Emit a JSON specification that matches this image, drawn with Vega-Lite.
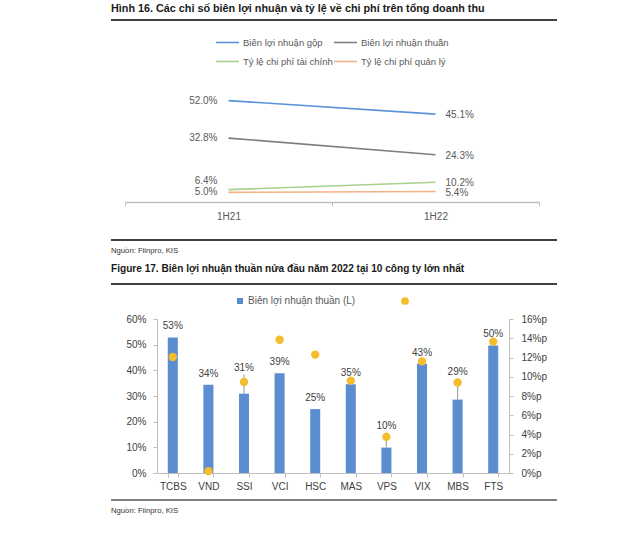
{
  "$schema": "https://vega.github.io/schema/vega-lite/v6.json",
  "background": "white",
  "padding": {"left": 110, "top": 2, "right": 0, "bottom": 0},
  "autosize": {"type": "pad"},
  "spacing": 0,
  "bounds": "flush",
  "resolve": {"scale": {"color": "independent"}, "legend": {"color": "independent"}},
  "config": {
    "font": "Liberation Sans",
    "view": {"stroke": null},
    "axis": {"labelFont": "Liberation Sans", "labelFontSize": 10, "labelColor": "#595959", "domainColor": "#BFBFBF", "tickColor": "#BFBFBF", "grid": false, "title": null, "tickSize": 4},
    "legend": {"labelFont": "Liberation Sans", "labelFontSize": 10, "labelColor": "#595959"},
    "title": {"anchor": "start", "frame": "group", "font": "Liberation Sans", "fontSize": 10.5, "fontWeight": "bold", "color": "#1a1a1a"}
  },
  "datasets": {
    "lines": [
      {"period": "1H21", "series": "Biên lợi nhuận gộp", "value": 0.520},
      {"period": "1H22", "series": "Biên lợi nhuận gộp", "value": 0.451},
      {"period": "1H21", "series": "Biên lợi nhuận thuần", "value": 0.328},
      {"period": "1H22", "series": "Biên lợi nhuận thuần", "value": 0.243},
      {"period": "1H21", "series": "Tỷ lệ chi phí tài chính", "value": 0.064},
      {"period": "1H22", "series": "Tỷ lệ chi phí tài chính", "value": 0.102},
      {"period": "1H21", "series": "Tỷ lệ chi phí quản lý", "value": 0.050},
      {"period": "1H22", "series": "Tỷ lệ chi phí quản lý", "value": 0.054}
    ],
    "firms": [
      {"company": "TCBS", "margin": 0.528, "dot": 12.05},
      {"company": "VND", "margin": 0.344, "dot": 0.2},
      {"company": "SSI", "margin": 0.309, "dot": 9.45},
      {"company": "VCI", "margin": 0.389, "dot": 13.85},
      {"company": "HSC", "margin": 0.249, "dot": 12.3},
      {"company": "MAS", "margin": 0.346, "dot": 9.6},
      {"company": "VPS", "margin": 0.099, "dot": 3.75},
      {"company": "VIX", "margin": 0.426, "dot": 11.6},
      {"company": "MBS", "margin": 0.286, "dot": 9.4},
      {"company": "FTS", "margin": 0.497, "dot": 13.65}
    ],
    "edge": [{"from": 0, "to": 1, "level": 0}]
  },
  "vconcat": [
    {
      "width": 446, "height": 1,
      "data": {"name": "edge"},
      "mark": {"type": "rule", "color": "#404040", "strokeWidth": 1.8},
      "encoding": {
        "x": {"field": "from", "type": "quantitative", "scale": {"domain": [0, 1]}, "axis": null},
        "x2": {"field": "to"},
        "y": {"field": "level", "type": "quantitative", "scale": {"domain": [0, 1]}, "axis": null}
      },
      "title": {"text": "Hình 16. Các chỉ số biên lợi nhuận và tỷ lệ về chi phí trên tổng doanh thu", "orient": "top", "offset": -3.5, "baseline": "alphabetic", "fontSize": 10.8}
    },
    {
      "width": 1, "height": 64.9,
      "data": {"values": [{}]},
      "mark": {"type": "point", "size": 0, "opacity": 0, "strokeWidth": 0},
      "encoding": {}
    },
    {
      "width": 428, "height": 117.1,
      "data": {"name": "lines"},
      "encoding": {
        "x": {"field": "period", "type": "nominal", "sort": null,
              "scale": {"type": "band", "range": [14, 428], "paddingInner": 0, "paddingOuter": 0},
              "axis": {"labelAngle": 0, "tickBand": "extent", "labelPadding": 5, "domainWidth": 1.5}},
        "y": {"field": "value", "type": "quantitative", "scale": {"domain": [0, 0.6]}, "axis": null}
      },
      "layer": [
        {
          "mark": {"type": "line", "strokeWidth": 1.6},
          "encoding": {
            "color": {"field": "series", "type": "nominal",
              "scale": {"domain": ["Biên lợi nhuận gộp", "Biên lợi nhuận thuần", "Tỷ lệ chi phí tài chính", "Tỷ lệ chi phí quản lý"],
                        "range": ["#5B93D8", "#7F7F7F", "#A9D18E", "#F4B183"]},
              "legend": {"title": null, "orient": "none", "legendX": 104, "legendY": -55, "direction": "horizontal", "columns": 2,
                         "symbolType": "stroke", "symbolSize": 529, "symbolStrokeWidth": 1.6, "labelOffset": 3, "labelFontSize": 9.5, "columnPadding": -3, "rowPadding": 2}}
          }
        },
        {
          "transform": [{"filter": "datum.period === '1H21' && datum.series !== 'Tỷ lệ chi phí tài chính'"}],
          "mark": {"type": "text", "align": "right", "dx": -11, "fontSize": 10, "color": "#595959"},
          "encoding": {"text": {"field": "value", "format": ".1%"}}
        },
        {
          "transform": [{"filter": "datum.period === '1H21' && datum.series === 'Tỷ lệ chi phí tài chính'"}],
          "mark": {"type": "text", "align": "right", "dx": -11, "dy": -9, "fontSize": 10, "color": "#595959"},
          "encoding": {"text": {"field": "value", "format": ".1%"}}
        },
        {
          "transform": [{"filter": "datum.period === '1H22'"}],
          "mark": {"type": "text", "align": "left", "dx": 10, "dy": 1, "fontSize": 10, "color": "#595959"},
          "encoding": {"text": {"field": "value", "format": ".1%"}}
        }
      ]
    },
    {
      "width": 1, "height": 35.8,
      "data": {"values": [{}]},
      "mark": {"type": "point", "size": 0, "opacity": 0, "strokeWidth": 0},
      "encoding": {}
    },
    {
      "width": 446, "height": 1,
      "data": {"name": "edge"},
      "mark": {"type": "rule", "color": "#404040", "strokeWidth": 1.8},
      "encoding": {
        "x": {"field": "from", "type": "quantitative", "scale": {"domain": [0, 1]}, "axis": null},
        "x2": {"field": "to"},
        "y": {"field": "level", "type": "quantitative", "scale": {"domain": [0, 1]}, "axis": null}
      },
      "title": {"text": "Nguồn: Fiinpro, KIS", "orient": "bottom", "offset": 6, "baseline": "top", "font": "Liberation Sans", "fontSize": 7.7, "fontWeight": "normal", "color": "#333333"}
    },
    {
      "width": 1, "height": 42.4,
      "data": {"values": [{}]},
      "mark": {"type": "point", "size": 0, "opacity": 0, "strokeWidth": 0},
      "encoding": {}
    },
    {
      "width": 446, "height": 1,
      "data": {"name": "edge"},
      "mark": {"type": "rule", "color": "#404040", "strokeWidth": 1.8},
      "encoding": {
        "x": {"field": "from", "type": "quantitative", "scale": {"domain": [0, 1]}, "axis": null},
        "x2": {"field": "to"},
        "y": {"field": "level", "type": "quantitative", "scale": {"domain": [0, 1]}, "axis": null}
      },
      "title": {"text": "Figure 17. Biên lợi nhuận thuần nửa đầu năm 2022 tại 10 công ty lớn nhất", "orient": "top", "offset": 0.5, "baseline": "alphabetic", "fontSize": 10.1}
    },
    {
      "width": 1, "height": 34.6,
      "data": {"values": [{}]},
      "mark": {"type": "point", "size": 0, "opacity": 0, "strokeWidth": 0},
      "encoding": {}
    },
    {
      "width": 398, "height": 154,
      "data": {"name": "firms"},
      "encoding": {
        "x": {"field": "company", "type": "nominal", "sort": null,
              "scale": {"type": "band", "range": [46, 398], "paddingInner": 0.718, "paddingOuter": 0.3025},
              "axis": {"labelAngle": 0, "tickBand": "extent", "labelPadding": 4, "labelColor": "#404040"}}
      },
      "layer": [
        {
          "encoding": {
            "y": {"field": "margin", "type": "quantitative", "scale": {"domain": [0, 0.6]},
                  "axis": {"orient": "left", "offset": -46, "values": [0, 0.1, 0.2, 0.3, 0.4, 0.5, 0.6], "format": ".0%", "labelPadding": 7, "labelColor": "#404040"}},
            "text": {"field": "margin", "format": ".0%"}
          },
          "layer": [
            {
              "mark": {"type": "bar", "color": "#5A8ED1"},
              "encoding": {
                "color": {"datum": "Biên lợi nhuận thuần (L)", "type": "nominal",
                  "scale": {"domain": ["Biên lợi nhuận thuần (L)", " "], "range": ["#5A8ED1", "#F5BD2B"]},
                  "legend": {"title": null, "orient": "none", "legendX": 124, "legendY": -23, "direction": "horizontal", "symbolSize": 40, "columnPadding": 44, "labelOffset": 3,
                             "encode": {"symbols": {"update": {"shape": {"signal": "datum.value === ' ' ? 'circle' : 'square'"}, "size": {"signal": "datum.value === ' ' ? 60 : 36"}}}}}}
              }
            },
            {
              "transform": [{"filter": "datum.company === 'SSI'"}],
              "mark": {"type": "rule", "color": "#A6A6A6", "strokeWidth": 1.2, "y2Offset": -19},
              "encoding": {"y2": {"field": "margin"}}
            },
            {
              "transform": [{"filter": "datum.company === 'VPS'"}],
              "mark": {"type": "rule", "color": "#A6A6A6", "strokeWidth": 1.2, "y2Offset": -15},
              "encoding": {"y2": {"field": "margin"}}
            },
            {
              "transform": [{"filter": "datum.company === 'MBS'"}],
              "mark": {"type": "rule", "color": "#A6A6A6", "strokeWidth": 1.2, "y2Offset": -21},
              "encoding": {"y2": {"field": "margin"}}
            },
            {
              "transform": [{"filter": "datum.company !== 'SSI' && datum.company !== 'VPS' && datum.company !== 'MBS'"}],
              "mark": {"type": "text", "dy": -11, "fontSize": 10, "color": "#404040"}
            },
            {
              "transform": [{"filter": "datum.company === 'SSI'"}],
              "mark": {"type": "text", "dy": -26, "fontSize": 10, "color": "#404040"}
            },
            {
              "transform": [{"filter": "datum.company === 'VPS'"}],
              "mark": {"type": "text", "dy": -22, "fontSize": 10, "color": "#404040"}
            },
            {
              "transform": [{"filter": "datum.company === 'MBS'"}],
              "mark": {"type": "text", "dy": -28, "fontSize": 10, "color": "#404040"}
            }
          ]
        },
        {
          "mark": {"type": "point", "filled": true, "size": 70, "opacity": 1},
          "encoding": {
            "y": {"field": "dot", "type": "quantitative", "scale": {"domain": [0, 16]},
                  "axis": {"orient": "right", "values": [0, 2, 4, 6, 8, 10, 12, 14, 16], "labelExpr": "datum.value + '%p'", "labelPadding": 8, "labelColor": "#404040"}},
            "color": {"datum": " ", "type": "nominal"}
          }
        }
      ],
      "resolve": {"scale": {"y": "independent"}}
    },
    {
      "width": 1, "height": 25.9,
      "data": {"values": [{}]},
      "mark": {"type": "point", "size": 0, "opacity": 0, "strokeWidth": 0},
      "encoding": {}
    },
    {
      "width": 446, "height": 1,
      "data": {"name": "edge"},
      "mark": {"type": "rule", "color": "#808080", "strokeWidth": 2},
      "encoding": {
        "x": {"field": "from", "type": "quantitative", "scale": {"domain": [0, 1]}, "axis": null},
        "x2": {"field": "to"},
        "y": {"field": "level", "type": "quantitative", "scale": {"domain": [0, 1]}, "axis": null}
      },
      "title": {"text": "Nguồn: Fiinpro, KIS", "orient": "bottom", "offset": 6, "baseline": "top", "font": "Liberation Sans", "fontSize": 7.7, "fontWeight": "normal", "color": "#333333"}
    }
  ]
}
